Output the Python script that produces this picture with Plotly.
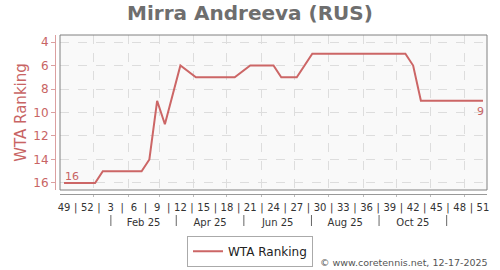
import pandas as pd
import plotly.graph_objects as go

# ---------------- data ----------------
week_labels = ["49", "50", "51", "52"] + [str(w) for w in range(1, 52)]
ranks = [16, 16, 16, 16, 16,            # wk 49-52 (2024), wk 1
         15, 15, 15, 15, 15, 15,        # wk 2-7
         14, 9, 11, None, 6, None,      # wk 8-13
         7, 7, 7, 7, 7, 7,              # wk 14-19
         None, 6, 6, 6, 6,              # wk 20-24
         7, 7, 7, None,                 # wk 25-28
         5, 5, 5, 5, 5, 5, 5, 5, 5, 5, 5, 5, 5,  # wk 29-41
         6,                             # wk 42
         9, 9, 9, 9, 9, 9, 9, 9, 9]     # wk 43-51
month_labels = ["Feb 25", "Apr 25", "Jun 25", "Aug 25", "Oct 25"]
y_ticks = [4, 6, 8, 10, 12, 14, 16]

xi = list(range(len(week_labels)))

# ---------------- layout helpers ----------------
start = pd.Timestamp("2024-12-05")
month_starts = pd.date_range("2025-01-01", "2025-12-01", freq="MS")
grid_pos = [(d - start).days / 7 for d in month_starts]
sep_pos = [grid_pos[m] - 2.25 for m in (1, 3, 5, 7, 9, 11)]
mlab_pos = [(sep_pos[k] + sep_pos[k + 1]) / 2 for k in range(len(month_labels))]

wk_vals, wk_text = [], []
for k in range(0, len(week_labels), 3):
    wk_vals.append(k)
    wk_text.append(week_labels[k])
    if k + 3 < len(week_labels):
        wk_vals.append(k + 1.5)
        wk_text.append("|")

XR = [-0.52, 54.52]
RED = "#c86464"
FONT = "DejaVu Sans"

fig = go.Figure()
fig.add_trace(go.Scatter(
    x=xi, y=ranks, mode="lines", name="WTA Ranking",
    line=dict(color="#cc6666", width=2), connectgaps=True,
))
for ax in ("x2", "x3"):
    fig.add_trace(go.Scatter(x=[None], y=[None], xaxis=ax, yaxis="y",
                             showlegend=False, hoverinfo="skip",
                             line=dict(color="rgba(0,0,0,0)")))

fig.add_annotation(x=xi[0], y=ranks[0], text=str(ranks[0]), showarrow=False,
                   xanchor="left", yanchor="bottom", xshift=-1, yshift=-2,
                   font=dict(family=FONT, size=11, color=RED))
fig.add_annotation(x=xi[-1], y=ranks[-1], text=str(ranks[-1]), showarrow=False,
                   xanchor="right", yanchor="top", xshift=3, yshift=-2,
                   font=dict(family=FONT, size=11, color=RED))

fig.add_annotation(xref="paper", yref="paper", x=1.007, y=-0.4277,
                   text="© www.coretennis.net, 12-17-2025", showarrow=False,
                   xanchor="right", yanchor="middle",
                   font=dict(family=FONT, size=9.5, color="#555555"))

fig.add_shape(type="rect", xref="x domain", yref="y domain", x0=0, x1=1, y0=0, y1=1,
              line=dict(color="#808080", width=1), layer="above")
# separators of the month row
for s in sep_pos:
    fig.add_shape(type="line", xref="x", yref="paper", x0=s, x1=s,
                  y0=(194 - 215) / 159, y1=(194 - 226) / 159,
                  line=dict(color="#666666", width=1))

fig.update_layout(
    width=500, height=270,
    margin=dict(l=55, r=13, t=35, b=76, autoexpand=False),
    paper_bgcolor="white", plot_bgcolor="#f9f9f9",
    font=dict(family=FONT, color="#333333"),
    title=dict(text="<b>Mirra Andreeva (RUS)</b>", x=0.5, xref="container",
               xanchor="center", y=1 - 13 / 270, yanchor="middle",
               font=dict(family=FONT, size=20, color="#6e6e6e")),
    showlegend=True,
    legend=dict(x=0.4514, y=-0.262, xanchor="center", yanchor="top",
                orientation="h", bordercolor="#aaaaaa", borderwidth=1,
                bgcolor="white", itemwidth=30,
                font=dict(family=FONT, size=12, color="#222222")),
    xaxis=dict(domain=[5 / 432, 1], anchor="free", position=0, range=XR,
               automargin=False,
               tickmode="array", tickvals=grid_pos, showticklabels=False,
               ticks="outside", ticklen=2, tickcolor="#bbbbbb",
               showgrid=True, gridcolor="#dddddd", griddash="dash", gridwidth=1,
               showline=True, linecolor="#999999", linewidth=1, zeroline=False),
    xaxis2=dict(overlaying="x", anchor="free", position=0, range=XR,
                automargin=False,
                tickmode="array", tickvals=wk_vals, ticktext=wk_text,
                ticks="", showgrid=False, showline=False, zeroline=False,
                ticklabelstandoff=6,
                tickfont=dict(family=FONT, size=10, color="#333333")),
    xaxis3=dict(overlaying="x", anchor="free", position=0, range=XR,
                automargin=False,
                tickmode="array", tickvals=mlab_pos, ticktext=month_labels,
                ticks="", showgrid=False, showline=False, zeroline=False,
                ticklabelstandoff=21,
                tickfont=dict(family=FONT, size=10, color="#333333")),
    yaxis=dict(domain=[4 / 159, 1], anchor="free", position=0, automargin=False,
               range=[16.6, 3.4], tickmode="array", tickvals=y_ticks,
               ticks="outside", ticklen=4, tickcolor="#dba0a0",
               showline=True, linecolor="#dba0a0", linewidth=1,
               showgrid=True, gridcolor="#dddddd", griddash="dash", zeroline=False,
               tickfont=dict(family=FONT, size=12, color=RED),
               title=dict(text="WTA Ranking", standoff=2,
                          font=dict(family=FONT, size=15, color=RED))),
)

fig.write_html("out.html")
